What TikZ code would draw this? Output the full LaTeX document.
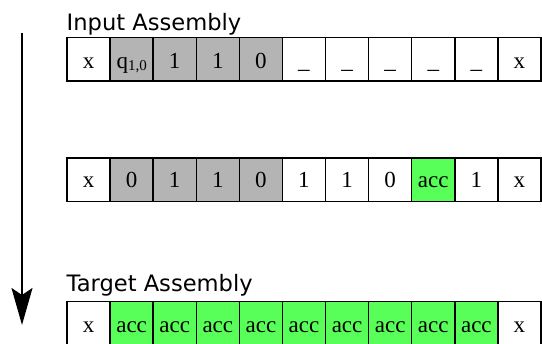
\documentclass[tikz,border=0pt]{standalone}
\usepackage{fontspec}
\setmainfont{Liberation Serif}
\newfontfamily\labelfont{DejaVu Sans}
\usetikzlibrary{arrows.meta}
\definecolor{cellgray}{RGB}{180,180,180}
\definecolor{cellgreen}{RGB}{88,255,88}
\tikzset{
 cell/.style={draw=black, line width=1.5pt, minimum width=43.1pt, minimum height=43.5pt, inner sep=0pt, outer sep=0pt},
 wcell/.style={cell, fill=white},
 gcell/.style={cell, fill=cellgray},
 acell/.style={cell, fill=cellgreen},
 celltext/.style={anchor=base, inner sep=0pt, font=\fontsize{23}{23}\selectfont},
 title/.style={anchor=base west, inner sep=0pt, font=\labelfont\fontsize{22.6}{23}\selectfont},
 flow/.style={line width=2pt, -{Stealth[length=37pt,width=21pt,inset=7pt]}}
}
\newcommand{\qsub}{q\raisebox{-0.2ex}{\fontsize{15}{15}\selectfont 1,0}}
\begin{document}
\begin{tikzpicture}[x=1pt,y=-1pt]
\useasboundingbox (0,0) rectangle (542,344);
% titles
\node[title] (tin) at (66.5,31) {Input Assembly};
\node[title] (ttg) at (66.5,292) {Target Assembly};
% row 1
\foreach \s/\t [count=\i] in {wcell/x, gcell/\qsub, gcell/1, gcell/1, gcell/0, wcell/\_, wcell/\_, wcell/\_, wcell/\_, wcell/\_, wcell/x} {
  \node[\s] (ra\i) at ({67+43.09*(\i-0.5)},59.5) {};
  \node[celltext] (ta\i) at ([yshift=13pt]ra\i.south) {\t};
}
% row 2
\foreach \s/\t [count=\i] in {wcell/x, gcell/0, gcell/1, gcell/1, gcell/0, wcell/1, wcell/1, wcell/0, acell/acc, wcell/1, wcell/x} {
  \node[\s] (rb\i) at ({67+43.09*(\i-0.5)},180) {};
  \node[celltext] (tb\i) at ([yshift=14pt]rb\i.south) {\t};
}
% row 3
\foreach \s/\t [count=\i] in {wcell/x, acell/acc, acell/acc, acell/acc, acell/acc, acell/acc, acell/acc, acell/acc, acell/acc, acell/acc, wcell/x} {
  \node[\s] (rc\i) at ({67+43.09*(\i-0.5)},323.5) {};
  \node[celltext] (tc\i) at ([yshift=13pt]rc\i.south) {\t};
}
% time arrow
\coordinate (atop) at (22,33);
\coordinate (abot) at (22,325);
\draw[flow] (atop) -- (abot);
\end{tikzpicture}
\end{document}
